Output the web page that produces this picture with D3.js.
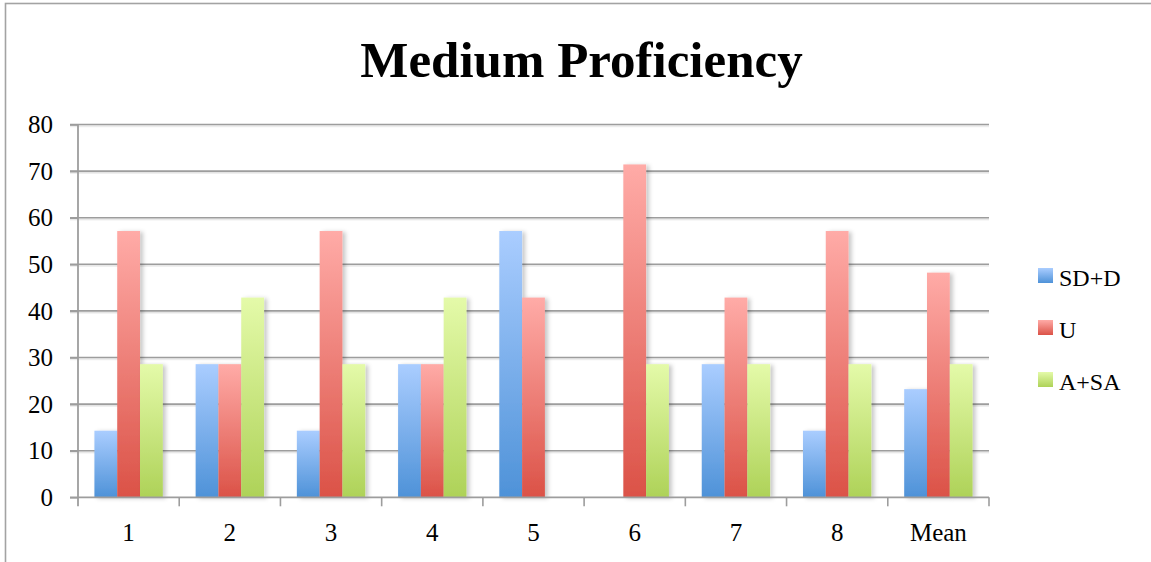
<!DOCTYPE html>
<html>
<head>
<meta charset="utf-8">
<script src="https://cdn.jsdelivr.net/npm/d3@7/dist/d3.min.js"></script>
<style>
  html, body { margin: 0; padding: 0; background: #fff; }
  svg { display: block; }
  text { font-family: "Liberation Serif", "DejaVu Serif", serif; fill: #000; }
</style>
</head>
<body>
<svg id="chart" width="1151" height="562"></svg>
<script>
// Survey items plus the overall mean
const categories = ["1", "2", "3", "4", "5", "6", "7", "8", "Mean"];
const seriesNames = ["SD+D", "U", "A+SA"];
// Percent of responses per item
const sdd  = [14.29, 28.57, 14.29, 28.57, 57.14, 0, 28.57, 14.29, 23.21];
const u    = [57.14, 28.57, 57.14, 28.57, 42.86, 71.43, 42.86, 57.14, 48.21];
const asa  = [28.57, 42.86, 28.57, 42.86, 0, 28.57, 28.57, 28.57, 28.57];
const yTicks = [0, 10, 20, 30, 40, 50, 60, 70, 80];
const chartTitle = "Medium Proficiency";

const seriesValues = [sdd, u, asa];
const gradients = [
  { top: "#aacdff", bottom: "#4e92d8" },
  { top: "#ffaba7", bottom: "#db5247" },
  { top: "#e4faa9", bottom: "#aed258" }
];

const svg = d3.select("#chart");
const defs = svg.append("defs");

gradients.forEach((g, i) => {
  const lg = defs.append("linearGradient")
    .attr("id", "grad" + i)
    .attr("x1", 0).attr("y1", 0).attr("x2", 0).attr("y2", 1);
  lg.append("stop").attr("offset", "0%").attr("stop-color", g.top);
  lg.append("stop").attr("offset", "100%").attr("stop-color", g.bottom);
});

const shadow = defs.append("filter").attr("id", "barShadow")
  .attr("x", "-20%").attr("y", "-10%").attr("width", "160%").attr("height", "130%");
shadow.append("feDropShadow")
  .attr("dx", 3).attr("dy", 1).attr("stdDeviation", 2)
  .attr("flood-color", "#000").attr("flood-opacity", 0.22);

const lineShadow = defs.append("filter").attr("id", "lineShadow")
  .attr("x", "-5%").attr("y", "-200%").attr("width", "110%").attr("height", "500%");
lineShadow.append("feDropShadow")
  .attr("dx", 0).attr("dy", 1.5).attr("stdDeviation", 0.6)
  .attr("flood-color", "#000").attr("flood-opacity", 0.12);

// Outer frame
svg.append("rect")
  .attr("x", 5.5).attr("y", 3.5)
  .attr("width", 1160).attr("height", 580)
  .attr("fill", "none").attr("stroke", "#a3a3a3").attr("stroke-width", 1.6);

const plotLeft = 78, plotRight = 989, plotTop = 124.5, plotBottom = 497.3;

const x0 = d3.scaleBand().domain(categories).range([plotLeft, plotRight]).paddingInner(0).paddingOuter(0);
const x1 = d3.scaleBand().domain(seriesNames).range([0, x0.bandwidth()]).paddingInner(0).paddingOuter(0.72);
const y = d3.scaleLinear().domain([0, 80]).range([plotBottom, plotTop]);

// Title
svg.append("text")
  .attr("x", (plotLeft + plotRight) / 2 + 48)
  .attr("y", 77)
  .attr("text-anchor", "middle")
  .style("font-size", "51px")
  .style("font-weight", "bold")
  .text(chartTitle);

// Horizontal gridlines
const grid = svg.append("g").attr("filter", "url(#lineShadow)");
grid.selectAll("line").data(yTicks.filter(d => d > 0)).join("line")
  .attr("x1", plotLeft - 8).attr("x2", plotRight)
  .attr("y1", d => y(d)).attr("y2", d => y(d))
  .attr("stroke", "#9d9d9d").attr("stroke-width", 1.6);

// Y axis
const yAxis = svg.append("g")
  .attr("transform", `translate(${plotLeft},0)`)
  .call(d3.axisLeft(y).tickValues(yTicks).tickSize(8).tickPadding(17));
yAxis.select(".domain").remove();
yAxis.selectAll(".tick line").attr("stroke", "#9d9d9d").attr("stroke-width", 1.6);
yAxis.selectAll(".tick text").style("font-size", "25px").attr("dy", "0.33em");
yAxis.append("line")
  .attr("x1", 0).attr("x2", 0).attr("y1", plotTop).attr("y2", plotBottom + 9)
  .attr("stroke", "#9d9d9d").attr("stroke-width", 1.8);

// Bars
const groups = svg.append("g").selectAll("g").data(categories).join("g")
  .attr("transform", d => `translate(${x0(d)},0)`);

groups.selectAll("rect")
  .data((c, ci) => seriesNames.map((s, si) => ({ s, si, v: seriesValues[si][ci] })).filter(d => d.v > 0))
  .join("rect")
  .attr("x", d => x1(d.s))
  .attr("width", x1.bandwidth())
  .attr("y", d => y(d.v))
  .attr("height", d => y(0) - y(d.v))
  .attr("fill", d => `url(#grad${d.si})`)
  .attr("filter", "url(#barShadow)");

// X axis
const xAxis = svg.append("g").attr("transform", `translate(0,${plotBottom})`);
xAxis.append("line")
  .attr("x1", plotLeft - 8).attr("x2", plotRight)
  .attr("stroke", "#9d9d9d").attr("stroke-width", 1.8);
xAxis.selectAll(".tk").data(categories).join("line").attr("class", "tk")
  .attr("x1", d => x0(d) + x0.bandwidth()).attr("x2", d => x0(d) + x0.bandwidth())
  .attr("y1", 0).attr("y2", 9)
  .attr("stroke", "#9d9d9d").attr("stroke-width", 1.6);
xAxis.selectAll(".lbl").data(categories).join("text").attr("class", "lbl")
  .attr("x", d => x0(d) + x0.bandwidth() / 2)
  .attr("y", 44)
  .attr("text-anchor", "middle")
  .style("font-size", "25px")
  .text(d => d);

// Legend
const legend = svg.append("g").attr("transform", "translate(1038,268)");
const items = legend.selectAll("g").data(seriesNames).join("g")
  .attr("transform", (d, i) => `translate(0,${i * 52})`);
items.append("rect")
  .attr("width", 15).attr("height", 15)
  .attr("fill", (d, i) => `url(#grad${i})`);
items.append("text")
  .attr("x", 21).attr("y", 18)
  .style("font-size", "24px")
  .text(d => d);
</script>
</body>
</html>
